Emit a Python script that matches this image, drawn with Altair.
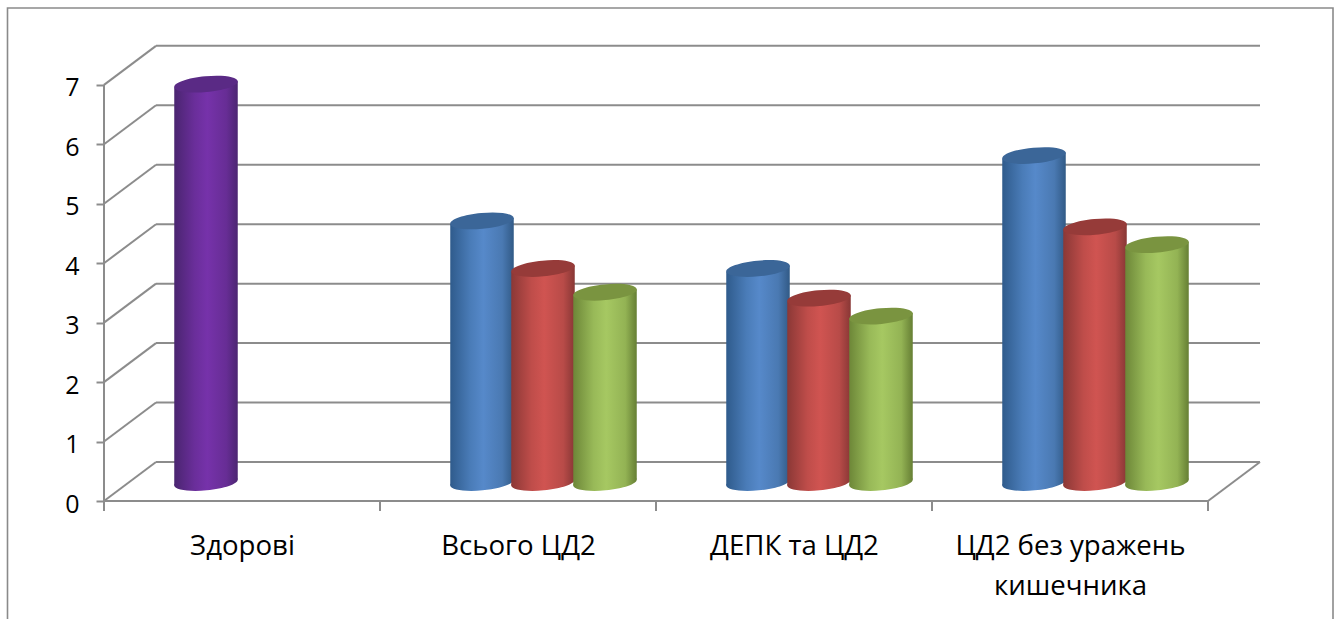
import altair as alt
import pandas as pd

# Category labels, one inner list per line of text
CATEGORIES = [["Здорові"], ["Всього ЦД2"], ["ДЕПК та ЦД2"], ["ЦД2 без уражень", "кишечника"]]

# Series values per category (None where a series has no cylinder)
HEALTHY = [6.7, None, None, None]
SERIES_1 = [None, 4.4, 3.6, 5.5]
SERIES_2 = [None, 3.6, 3.1, 4.3]
SERIES_3 = [None, 3.2, 2.8, 4.0]

# Series slot inside a category, in category widths from its centre
SLOTS = {"blue": -62 / 276, "red": -1 / 276, "green": 61 / 276, "purple": -62 / 276}

# Body gradient stops and the darker lid colour
STYLES = {
    "blue": (["#2f5b8c", "#4a7cb8", "#5689ca", "#4a79b2", "#315a86"], "#3b6698"),
    "red": (["#8b3836", "#bf4d4a", "#d05451", "#b84b48", "#883735"], "#963b39"),
    "green": (["#6d8738", "#98b958", "#a6c862", "#93b354", "#667f34"], "#7a9440"),
    "purple": (["#4a2570", "#6a2e9a", "#7632aa", "#672d95", "#4c2672"], "#5a2a85"),
}
STOPS = [0.0, 0.32, 0.52, 0.82, 1.0]

# Plot geometry: the x unit is one category, the y unit is one value step
PX_X = 276.0
PX_Y = 59.45
PLOT_W = 1156
PLOT_H = 457
DEPTH_X = 52 / PX_X
DEPTH_Y = 39 / PX_Y
BASE_X = 26 / PX_X
BASE_Y = 18.5 / PX_Y
BODY_HALF = 31.75 / PX_X
TILT = 3 / PX_Y
AXIS = "#8c8c8c"
FONT = "Open Sans"

# A slightly tilted ellipse used for the cylinder caps
CAP = "M -1 0.094 A 1.0044 0.248 -5.4 1 1 1 -0.094 A 1.0044 0.248 -5.4 1 1 -1 0.094 Z"

x_scale = alt.Scale(domain=[0, PLOT_W / PX_X], nice=False, zero=False)
y_scale = alt.Scale(domain=[0, PLOT_H / PX_Y], nice=False, zero=False)


def gradient(name):
    return alt.LinearGradient(
        gradient="linear", x1=0, x2=1, y1=0, y2=0,
        stops=[alt.GradientStop(color=c, offset=o) for c, o in zip(STYLES[name][0], STOPS)],
    )


def cylinder_rows(name, values):
    rows = []
    for i, v in enumerate(values):
        if v is None:
            continue
        cx = i + 0.5 + BASE_X + SLOTS[name]
        rows.append({"id": i, "cx": cx, "top": v + BASE_Y, "base": BASE_Y})
    return rows


def cylinder_layers(name, values):
    caps = pd.DataFrame(cylinder_rows(name, values))
    body = pd.DataFrame(
        [
            {"id": r["id"], "x": r["cx"] + side * BODY_HALF,
             "top": r["top"] + side * TILT, "base": r["base"] + side * TILT}
            for r in cylinder_rows(name, values)
            for side in (-1, 1)
        ]
    )
    x_cap = alt.X("cx:Q", scale=x_scale, title=None)
    bottom = alt.Chart(caps).mark_point(
        shape=CAP, size=4032, filled=True, fill=gradient(name), opacity=1, strokeWidth=0
    ).encode(x=x_cap, y=alt.Y("base:Q", scale=y_scale, title=None))
    side_wall = alt.Chart(body).mark_area(fill=gradient(name), opacity=1).encode(
        x=alt.X("x:Q", scale=x_scale, title=None),
        y=alt.Y("top:Q", scale=y_scale, title=None),
        y2="base:Q",
        detail="id:N",
    )
    lid = alt.Chart(caps).mark_point(
        shape=CAP, size=4032, filled=True, fill=STYLES[name][1], opacity=1, strokeWidth=0
    ).encode(x=x_cap, y=alt.Y("top:Q", scale=y_scale, title=None))
    return [bottom, side_wall, lid]


# Wall gridlines, side slants, floor edges and the value axis line
steps = list(range(8))
n = len(CATEGORIES)
segments = []
for v in steps:
    segments.append({"x": DEPTH_X, "x2": n + DEPTH_X, "y": v + DEPTH_Y, "y2": v + DEPTH_Y})
    segments.append({"x": 0, "x2": DEPTH_X, "y": v, "y2": v + DEPTH_Y})
segments.append({"x": 0, "x2": n, "y": 0, "y2": 0})
segments.append({"x": n, "x2": n + DEPTH_X, "y": 0, "y2": DEPTH_Y})
segments.append({"x": 0, "x2": 0, "y": 0, "y2": 7})
for i in range(n + 1):
    segments.append({"x": i, "x2": i, "y": 0, "y2": -10 / PX_Y})

label_expr = "[" + ",".join(
    "[" + ",".join("'" + line + "'" for line in lines) + "]" for lines in CATEGORIES
) + "][floor(datum.value)]"

grid = alt.Chart(pd.DataFrame(segments)).mark_rule(color=AXIS, strokeWidth=2).encode(
    x=alt.X(
        "x:Q", scale=x_scale, title=None,
        axis=alt.Axis(
            values=[i + 0.5 for i in range(n)], labelExpr=label_expr, domain=False, ticks=False,
            grid=False, labelFont=FONT, labelFontSize=27.6, labelColor="#000000",
            labelPadding=31, labelLineHeight=40, labelFlush=False, labelOverlap=False,
            labelBound=False, labelLimit=500,
        ),
    ),
    x2="x2:Q",
    y=alt.Y(
        "y:Q", scale=y_scale, title=None,
        axis=alt.Axis(
            values=steps, format="d", domain=False, grid=False, tickColor=AXIS, tickWidth=2,
            tickSize=8, labelFont=FONT, labelFontSize=25, labelColor="#000000",
            labelPadding=17, labelFlush=False, labelOverlap=False, labelBound=False,
            labelOffset=3,
        ),
    ),
    y2="y2:Q",
)

frame = alt.Chart(pd.DataFrame({"k": [0]})).mark_rect(
    fill="transparent", stroke="#8a8a8a", strokeWidth=1.6
).encode(x=alt.value(-96.5), x2=alt.value(1229), y=alt.value(-36), y2=alt.value(620))

layers = [grid, frame]
for name, values in [("blue", SERIES_1), ("red", SERIES_2), ("green", SERIES_3), ("purple", HEALTHY)]:
    layers += cylinder_layers(name, values)

chart = (
    alt.layer(*layers)
    .properties(
        width=PLOT_W,
        height=PLOT_H,
        background="#ffffff",
        autosize=alt.AutoSizeParams(type="none"),
        padding={"left": 104, "top": 44, "right": 81, "bottom": 118},
    )
    .configure_view(stroke=None)
)

chart.save("out.html", embed_options={"renderer": "svg", "actions": False})
